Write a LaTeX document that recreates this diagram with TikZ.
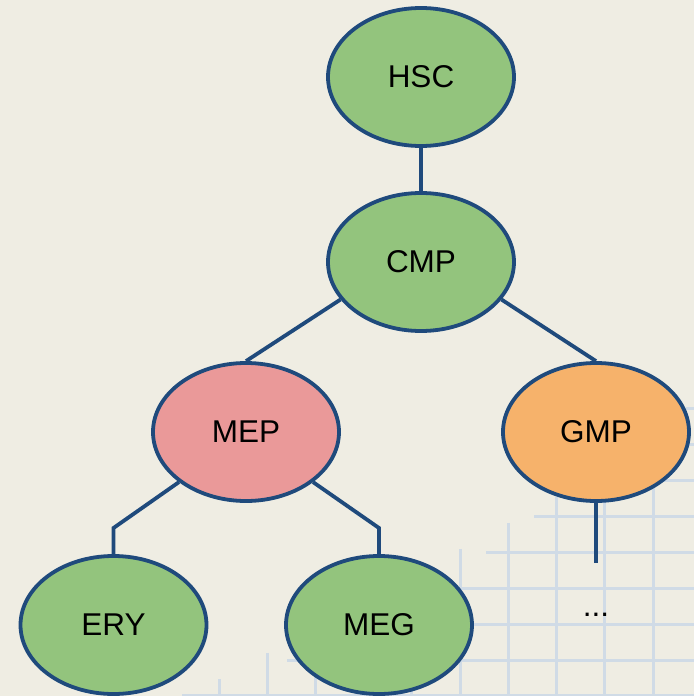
\documentclass[tikz,border=0pt]{standalone}
\usepackage{fontspec}
\setmainfont{Liberation Sans}
\usetikzlibrary{shapes.geometric}
\definecolor{bg}{HTML}{EFEDE3}
\definecolor{gridc}{HTML}{D0DBE6}
\definecolor{edge}{HTML}{1F4A7C}
\definecolor{cgreen}{HTML}{93C47D}
\definecolor{cpink}{HTML}{EA9999}
\definecolor{corange}{HTML}{F6B26B}
\begin{document}
\begin{tikzpicture}[x=1pt,y=-1pt,
  cell/.style={ellipse, draw=edge, line width=3.8pt, minimum width=186pt, minimum height=138pt, inner sep=0pt, font=\fontsize{31.5}{36}\selectfont},
  link/.style={draw=edge, line width=3.8pt},
  gridline/.style={draw=gridc, line width=3pt}]
\fill[bg] (0,0) rectangle (694,696);
\useasboundingbox (0,0) rectangle (694,696);
% background grid
\foreach \x in {219,267.2,315.4,363.6,411.8,460,508.2,556.6,604.8,653}
  \draw[gridline] (\x,{679-0.54*(\x-219)}) -- (\x,696);
\foreach \y/\s in {408/686,444/640,480/595,516/534,552/486,588/420,624/353,660/287,695/182}
  \draw[gridline] (\s,\y) -- (694,\y);
% nodes
\node[cell, fill=cgreen] (HSC) at (421,77) {HSC};
\node[cell, fill=cgreen] (CMP) at (421,262) {CMP};
\node[cell, fill=cpink] (MEP) at (246,432) {MEP};
\node[cell, fill=corange] (GMP) at (596,432) {GMP};
\node[cell, fill=cgreen] (ERY) at (113.5,625) {ERY};
\node[cell, fill=cgreen] (MEG) at (379,625) {MEG};
\node[font=\fontsize{31.5}{36}\selectfont, anchor=base, inner sep=0pt] (more) at (596,616) {...};
% connectors
\coordinate (b1) at (113.5,528);
\coordinate (b2) at (379,528);
\coordinate (gend) at (596,563);
\draw[link] (HSC) -- (CMP);
\draw[link] (CMP.205) -- (MEP.north);
\draw[link] (CMP.-25) -- (GMP.north);
\draw[link] (MEP.south west) -- (b1) -- (ERY.north);
\draw[link] (MEP.south east) -- (b2) -- (MEG.north);
\draw[link] (GMP.south) -- (gend);
\end{tikzpicture}
\end{document}
